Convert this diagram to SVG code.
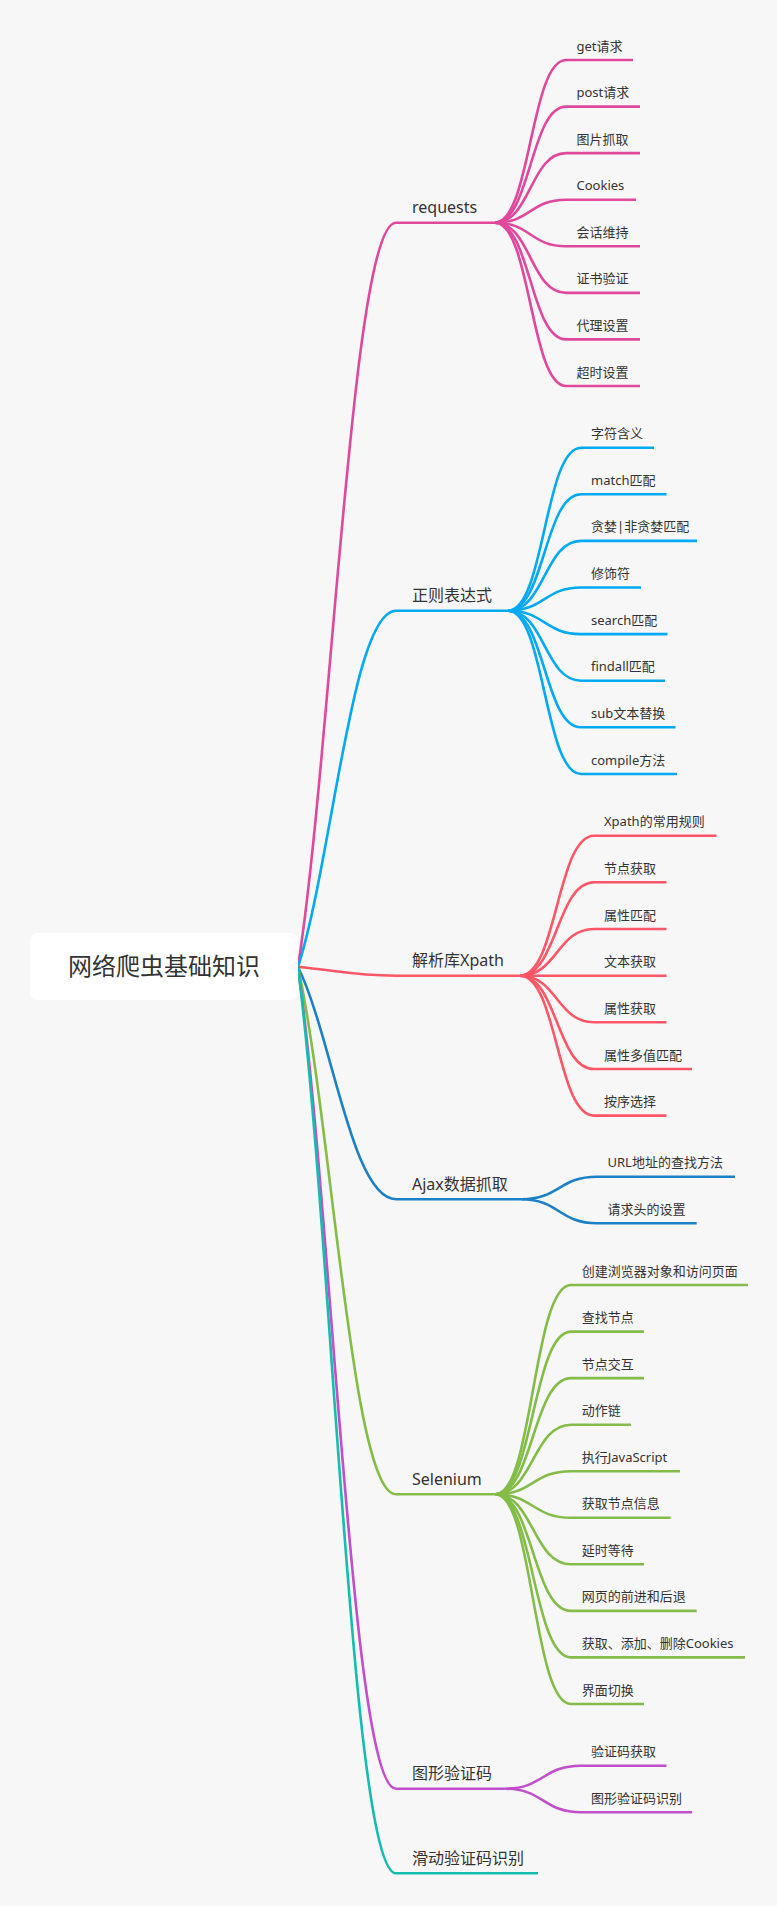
<svg xmlns="http://www.w3.org/2000/svg" width="777" height="1906" viewBox="0 0 777 1906">
<style>
.bg{fill:#f7f7f7}
.root{fill:#ffffff}
text{font-family:"Noto Sans","Noto Sans CJK SC",sans-serif;fill:#333333}
.rt{font-size:24px;text-anchor:middle}
.bt{font-size:16px}
.lt{font-size:13px}
.ln{fill:none;stroke-width:2.6;stroke-linecap:butt}
.c1{stroke:#e0489d}
.c2{stroke:#03a9f1}
.c3{stroke:#fd5667}
.c4{stroke:#1b80c6}
.c5{stroke:#83bc48}
.c6{stroke:#c24ec9}
.c7{stroke:#14bdb0}
</style>
<rect class="bg" x="0" y="0" width="777" height="1906"/>
<g id="connectors">
  <!-- trunk -->
  <path class="ln c1" d="M298 967 C332.3 743.7 351.9 222.7 396 222.7 L495 222.7"/>
  <path class="ln c2" d="M298 967 C332.3 860.1 351.9 610.7 396 610.7 L508 610.7"/>
  <path class="ln c3" d="M298 967 C332.3 969.6 351.9 975.7 396 975.7 L520 975.7"/>
  <path class="ln c4" d="M298 967 C332.3 1036.7 351.9 1199.3 396 1199.3 L521.5 1199.3"/>
  <path class="ln c5" d="M298 967 C332.3 1125.2 351.9 1494.3 396 1494.3 L495.5 1494.3"/>
  <path class="ln c6" d="M298 967 C332.3 1213.5 351.9 1788.7 396 1788.7 L505.5 1788.7"/>
  <path class="ln c7" d="M298 967 C332.3 1238.9 351.9 1873.3 396 1873.3 L538 1873.3"/>
  <!-- requests leaves -->
  <g class="ln c1">
    <path d="M495 222.7 C530.5 222.7 530.5 60 566 60 L633 60"/>
    <path d="M495 222.7 C530.5 222.7 530.5 106.6 566 106.6 L640 106.6"/>
    <path d="M495 222.7 C530.5 222.7 530.5 153.1 566 153.1 L640 153.1"/>
    <path d="M495 222.7 C530.5 222.7 530.5 199.7 566 199.7 L636 199.7"/>
    <path d="M495 222.7 C530.5 222.7 530.5 246.3 566 246.3 L640 246.3"/>
    <path d="M495 222.7 C530.5 222.7 530.5 292.9 566 292.9 L640 292.9"/>
    <path d="M495 222.7 C530.5 222.7 530.5 339.4 566 339.4 L640 339.4"/>
    <path d="M495 222.7 C530.5 222.7 530.5 386 566 386 L640 386"/>
  </g>
  <!-- regex leaves -->
  <g class="ln c2">
    <path d="M508 610.7 C544.5 610.7 544.5 447.7 581 447.7 L654 447.7"/>
    <path d="M508 610.7 C544.5 610.7 544.5 494.3 581 494.3 L666.5 494.3"/>
    <path d="M508 610.7 C544.5 610.7 544.5 540.9 581 540.9 L697 540.9"/>
    <path d="M508 610.7 C544.5 610.7 544.5 587.5 581 587.5 L641 587.5"/>
    <path d="M508 610.7 C544.5 610.7 544.5 634.1 581 634.1 L667.5 634.1"/>
    <path d="M508 610.7 C544.5 610.7 544.5 680.7 581 680.7 L665 680.7"/>
    <path d="M508 610.7 C544.5 610.7 544.5 727.3 581 727.3 L675.5 727.3"/>
    <path d="M508 610.7 C544.5 610.7 544.5 774 581 774 L677 774"/>
  </g>
  <!-- xpath leaves -->
  <g class="ln c3">
    <path d="M520 975.7 C557 975.7 557 835.7 594 835.7 L716.5 835.7"/>
    <path d="M520 975.7 C557 975.7 557 882.3 594 882.3 L666.5 882.3"/>
    <path d="M520 975.7 C557 975.7 557 929 594 929 L666.5 929"/>
    <path d="M520 975.7 L666.5 975.7"/>
    <path d="M520 975.7 C557 975.7 557 1022.3 594 1022.3 L666.5 1022.3"/>
    <path d="M520 975.7 C557 975.7 557 1069 594 1069 L692 1069"/>
    <path d="M520 975.7 C557 975.7 557 1115.6 594 1115.6 L666.5 1115.6"/>
  </g>
  <!-- ajax leaves -->
  <g class="ln c4">
    <path d="M521.5 1199.3 C559 1199.3 559 1176.7 597 1176.7 L735 1176.7"/>
    <path d="M521.5 1199.3 C559 1199.3 559 1223.3 597 1223.3 L696.7 1223.3"/>
  </g>
  <!-- selenium leaves -->
  <g class="ln c5">
    <path d="M495.5 1494.3 C533 1494.3 533 1285 571 1285 L748 1285"/>
    <path d="M495.5 1494.3 C533 1494.3 533 1331.6 571 1331.6 L644 1331.6"/>
    <path d="M495.5 1494.3 C533 1494.3 533 1378.1 571 1378.1 L644 1378.1"/>
    <path d="M495.5 1494.3 C533 1494.3 533 1424.7 571 1424.7 L631 1424.7"/>
    <path d="M495.5 1494.3 C533 1494.3 533 1471.2 571 1471.2 L680 1471.2"/>
    <path d="M495.5 1494.3 C533 1494.3 533 1517.8 571 1517.8 L670.5 1517.8"/>
    <path d="M495.5 1494.3 C533 1494.3 533 1564.3 571 1564.3 L644 1564.3"/>
    <path d="M495.5 1494.3 C533 1494.3 533 1610.9 571 1610.9 L696.7 1610.9"/>
    <path d="M495.5 1494.3 C533 1494.3 533 1657.4 571 1657.4 L745 1657.4"/>
    <path d="M495.5 1494.3 C533 1494.3 533 1704 571 1704 L644 1704"/>
  </g>
  <!-- captcha leaves -->
  <g class="ln c6">
    <path d="M505.5 1788.7 C543 1788.7 543 1765.7 581 1765.7 L666.5 1765.7"/>
    <path d="M505.5 1788.7 C543 1788.7 543 1812.3 581 1812.3 L692 1812.3"/>
  </g>
</g>
<g id="root">
  <rect class="root" x="30" y="933" width="268" height="67" rx="7"/>
  <text class="rt" x="164" y="975">网络爬虫基础知识</text>
</g>
<g id="requests">
  <text class="bt" x="412" y="213.2">requests</text>
  <text class="lt" x="576.5" y="50.5">get请求</text>
  <text class="lt" x="576.5" y="97.1">post请求</text>
  <text class="lt" x="576.5" y="143.6">图片抓取</text>
  <text class="lt" x="576.5" y="190.2">Cookies</text>
  <text class="lt" x="576.5" y="236.8">会话维持</text>
  <text class="lt" x="576.5" y="283.4">证书验证</text>
  <text class="lt" x="576.5" y="329.9">代理设置</text>
  <text class="lt" x="576.5" y="376.5">超时设置</text>
</g>
<g id="regex">
  <text class="bt" x="412" y="601.2">正则表达式</text>
  <text class="lt" x="591" y="438.2">字符含义</text>
  <text class="lt" x="591" y="484.8">match匹配</text>
  <text class="lt" x="591" y="531.4">贪婪|非贪婪匹配</text>
  <text class="lt" x="591" y="578">修饰符</text>
  <text class="lt" x="591" y="624.6">search匹配</text>
  <text class="lt" x="591" y="671.2">findall匹配</text>
  <text class="lt" x="591" y="717.8">sub文本替换</text>
  <text class="lt" x="591" y="764.5">compile方法</text>
</g>
<g id="xpath">
  <text class="bt" x="412" y="966.2">解析库Xpath</text>
  <text class="lt" x="604" y="826.2">Xpath的常用规则</text>
  <text class="lt" x="604" y="872.8">节点获取</text>
  <text class="lt" x="604" y="919.5">属性匹配</text>
  <text class="lt" x="604" y="966.2">文本获取</text>
  <text class="lt" x="604" y="1012.8">属性获取</text>
  <text class="lt" x="604" y="1059.5">属性多值匹配</text>
  <text class="lt" x="604" y="1106.1">按序选择</text>
</g>
<g id="ajax">
  <text class="bt" x="412" y="1189.8">Ajax数据抓取</text>
  <text class="lt" x="607.5" y="1167.2">URL地址的查找方法</text>
  <text class="lt" x="607.5" y="1213.8">请求头的设置</text>
</g>
<g id="selenium">
  <text class="bt" x="412" y="1484.8">Selenium</text>
  <text class="lt" x="581.7" y="1275.5">创建浏览器对象和访问页面</text>
  <text class="lt" x="581.7" y="1322.1">查找节点</text>
  <text class="lt" x="581.7" y="1368.6">节点交互</text>
  <text class="lt" x="581.7" y="1415.2">动作链</text>
  <text class="lt" x="581.7" y="1461.7">执行JavaScript</text>
  <text class="lt" x="581.7" y="1508.3">获取节点信息</text>
  <text class="lt" x="581.7" y="1554.8">延时等待</text>
  <text class="lt" x="581.7" y="1601.4">网页的前进和后退</text>
  <text class="lt" x="581.7" y="1647.9">获取、添加、删除Cookies</text>
  <text class="lt" x="581.7" y="1694.5">界面切换</text>
</g>
<g id="captcha">
  <text class="bt" x="412" y="1779.2">图形验证码</text>
  <text class="lt" x="591" y="1756.2">验证码获取</text>
  <text class="lt" x="591" y="1802.8">图形验证码识别</text>
</g>
<g id="slide">
  <text class="bt" x="412" y="1863.8">滑动验证码识别</text>
</g>
</svg>
